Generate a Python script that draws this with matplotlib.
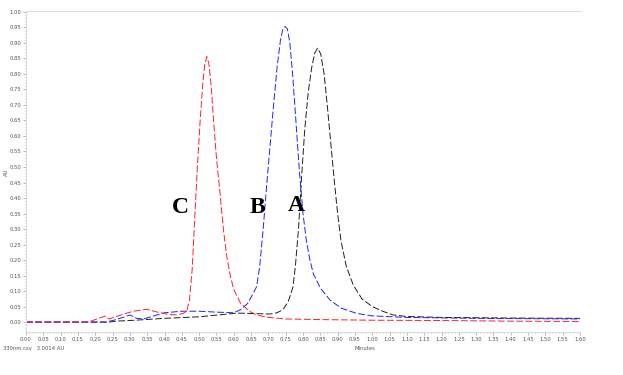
import numpy as np
import matplotlib
matplotlib.use("Agg")
import matplotlib.pyplot as plt
from matplotlib.ticker import MultipleLocator

# retention time (min) / absorbance (AU)
time_a = [0.00, 0.20, 0.24, 0.26, 0.315, 0.40, 0.50, 0.61, 0.705, 0.725, 0.742, 0.757,
          0.771, 0.778, 0.787, 0.796, 0.805, 0.815, 0.825, 0.834, 0.842, 0.851, 0.861,
          0.87, 0.88, 0.89, 0.90, 0.91, 0.925, 0.945, 0.97, 1.00, 1.03, 1.06, 1.10,
          1.20, 1.40, 1.60]
au_a = [0.000, 0.000, 0.000, 0.003, 0.006, 0.012, 0.017, 0.029, 0.026, 0.030, 0.040, 0.065,
        0.113, 0.180, 0.300, 0.470, 0.620, 0.740, 0.820, 0.868, 0.883, 0.865, 0.800,
        0.700, 0.580, 0.460, 0.350, 0.260, 0.180, 0.120, 0.075, 0.050, 0.035, 0.023, 0.018,
        0.015, 0.013, 0.012]

time_b = [0.00, 0.23, 0.25, 0.28, 0.30, 0.32, 0.34, 0.37, 0.40, 0.45, 0.50, 0.55, 0.60,
          0.62, 0.64, 0.655, 0.666, 0.675, 0.685, 0.695, 0.705, 0.715, 0.725, 0.735, 0.742,
          0.748, 0.755, 0.762, 0.77, 0.78, 0.79, 0.80, 0.81, 0.82, 0.83, 0.85, 0.878, 0.91,
          0.955, 1.00, 1.10, 1.30, 1.60]
au_b = [0.000, 0.000, 0.005, 0.015, 0.023, 0.012, 0.010, 0.020, 0.030, 0.035, 0.035, 0.032, 0.030,
        0.040, 0.060, 0.090, 0.114, 0.180, 0.300, 0.440, 0.570, 0.700, 0.820, 0.910, 0.945,
        0.953, 0.945, 0.900, 0.800, 0.640, 0.480, 0.350, 0.260, 0.200, 0.155, 0.110, 0.071, 0.045,
        0.028, 0.020, 0.015, 0.012, 0.010]

time_c = [0.00, 0.18, 0.20, 0.228, 0.24, 0.28, 0.31, 0.349, 0.38, 0.41, 0.435, 0.454,
          0.464, 0.472, 0.48, 0.488, 0.495, 0.503, 0.51, 0.516, 0.522, 0.528, 0.535, 0.541,
          0.55, 0.56, 0.57, 0.58, 0.59, 0.60, 0.62, 0.645, 0.666, 0.695, 0.75, 0.85, 1.00,
          1.20, 1.40, 1.60]
au_c = [0.000, 0.000, 0.008, 0.019, 0.010, 0.025, 0.035, 0.041, 0.032, 0.025, 0.023, 0.028,
        0.035, 0.070, 0.170, 0.350, 0.500, 0.650, 0.760, 0.830, 0.856, 0.835, 0.760, 0.660,
        0.530, 0.420, 0.300, 0.210, 0.150, 0.105, 0.060, 0.035, 0.023, 0.016, 0.010, 0.008,
        0.006, 0.005, 0.003, 0.002]

peak_names = ["A", "B", "C"]
peak_label_x = [0.78, 0.667, 0.445]
peak_label_y = [0.377, 0.368, 0.368]

fig = plt.figure(figsize=(6.23, 3.75), dpi=100)
ax = fig.add_axes([26 / 623, 1 - 332 / 375, (580 - 26) / 623, (332 - 11) / 375])

dash = (0, (7, 2.5))
ax.plot(time_a, au_a, color="#202020", lw=0.7, linestyle=dash)
ax.plot(time_b, au_b, color="#2020ff", lw=0.7, linestyle=dash)
ax.plot(time_c, au_c, color="#ff2020", lw=0.7, linestyle=dash)

for name, lx, ly in zip(peak_names, peak_label_x, peak_label_y):
    ax.text(lx, ly, name, fontsize=17, fontweight="bold", family="Liberation Serif",
            ha="center", va="center")

ax.set_xlim(0, 1.60)
ax.set_ylim(-0.032, 1.003)
ax.xaxis.set_major_locator(MultipleLocator(0.05))
ax.xaxis.set_minor_locator(MultipleLocator(0.01))
ax.yaxis.set_major_locator(MultipleLocator(0.05))
ax.yaxis.set_minor_locator(MultipleLocator(0.01))
ax.xaxis.set_major_formatter(matplotlib.ticker.FormatStrFormatter("%.2f"))
ax.yaxis.set_major_formatter(matplotlib.ticker.FormatStrFormatter("%.2f"))
ax.tick_params(which="both", colors="#999999", labelcolor="#555555", labelsize=3.8,
               width=0.5, pad=1.5)
ax.tick_params(which="major", length=2)
ax.tick_params(which="minor", length=1)

for side in ["top", "left", "bottom"]:
    ax.spines[side].set_color("#dddddd")
    ax.spines[side].set_linewidth(0.8)
ax.spines["right"].set_visible(False)

ax.set_xlabel("Minutes", fontsize=3.8, color="#555555")
ax.xaxis.set_label_coords((365 - 26) / 554, -0.045)
ax.set_ylabel("AU", fontsize=3.8, color="#555555")
ax.yaxis.set_label_coords(-0.03, (332 - 172) / 321)

fig.text(3 / 623, 1 - 348 / 375, "330nm.csv   3.0014 AU", fontsize=3.8, color="#555555",
         va="center")

fig.savefig("out.png", dpi=100)
